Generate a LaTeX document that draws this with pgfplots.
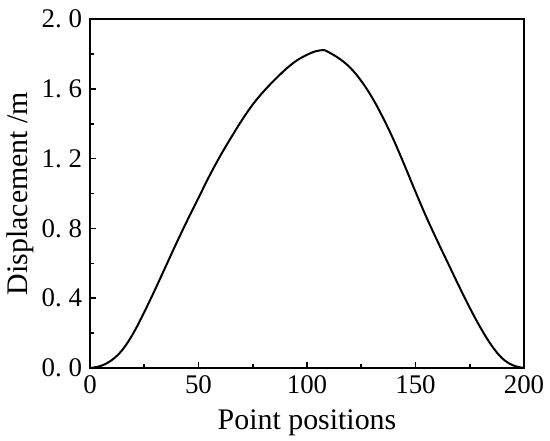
\documentclass[border=0pt]{standalone}
\usepackage{fontspec}
\setmainfont{Liberation Serif}
\usepackage{pgfplots}
\pgfplotsset{compat=1.18}
\begin{document}
\begin{tikzpicture}
\begin{axis}[
    scale only axis,
    width=217bp, height=174.5bp,
    xmin=0, xmax=200, ymin=0, ymax=2,
    xtick={0,50,100,150,200},
    xticklabels={0,50,100,150,200},
    ytick={0,0.4,0.8,1.2,1.6,2.0},
    yticklabels={0.\ 0,0.\ 4,0.\ 8,1.\ 2,1.\ 6,2.\ 0},
    minor x tick num=1, minor y tick num=1,
    xtick pos=bottom, ytick pos=left,
    tick align=inside,
    major tick length=3bp, minor tick length=2bp,
    axis line style={line width=1bp},
    every tick/.style={line width=0.8bp, black},
    tick label style={font=\fontsize{13.5}{15}\selectfont},
    xticklabel style={yshift=-0.5bp},
    yticklabel style={xshift=-0.5bp},
    label style={font=\fontsize{15}{17}\selectfont},
    xlabel={Point positions},
    ylabel={Displacement /m},
    xlabel style={yshift=-1bp},
    ylabel style={yshift=-3bp},
]
\addplot[black, line width=1bp, smooth, tension=0.6] coordinates {
  (0,0) (5,0.012) (10,0.045) (15,0.105) (20,0.20) (25,0.32) (30,0.45)
  (35,0.585) (40,0.72) (45,0.85) (50,0.975) (55,1.10) (60,1.215)
  (65,1.32) (70,1.42) (75,1.51) (80,1.585) (85,1.65) (90,1.71)
  (95,1.76) (100,1.795) (104,1.815) (108,1.822) (110,1.81) (115,1.772)
  (120,1.72) (125,1.645) (130,1.55) (135,1.435) (140,1.305) (145,1.16)
  (150,1.01) (155,0.865) (160,0.73) (165,0.60) (170,0.47) (175,0.345)
  (180,0.23) (185,0.13) (190,0.055) (195,0.015) (200,0)
};
\end{axis}
\pgfresetboundingbox
\path ([shift={(-45bp,-36.5bp)}]current axis.south west)
  rectangle ([shift={(13bp,9.5bp)}]current axis.north east);
\end{tikzpicture}
\end{document}
